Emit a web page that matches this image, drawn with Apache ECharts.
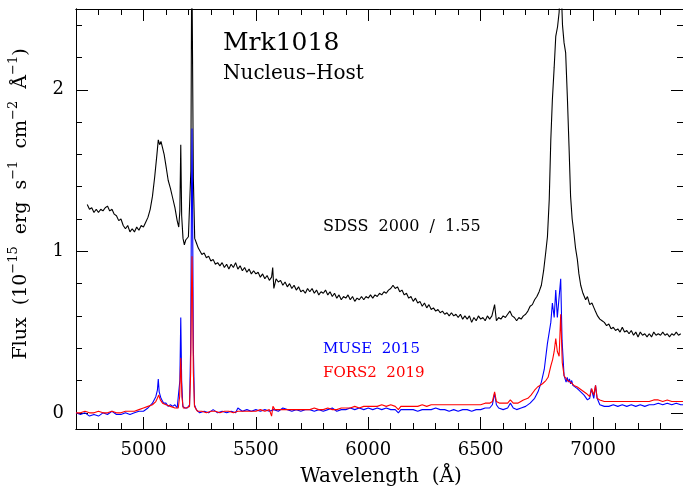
<!DOCTYPE html>
<html><head><meta charset="utf-8">
<script src="https://cdn.jsdelivr.net/npm/echarts@6/dist/echarts.min.js"></script>
<style>html,body{margin:0;padding:0;background:#fff}#c{width:683px;height:488px}</style>
</head><body><div id="c"></div>
<script>
// ---- data (wavelength in Å, flux in 1e-15 erg/s/cm2/Å) ----
const sdssWave = [4750,4760,4770,4780,4790,4800,4810,4820,4830,4840,4850,4860,4870,4880,4890,4900,4910,4920,4930,4940,4950,4960,4970,4980,4990,5000,5010,5020,5030,5040,5050,5060,5066,5072,5078,5085,5092,5100,5110,5120,5130,5140,5150,5157,5162,5166,5170,5176,5182,5188,5194,5200,5206,5211,5215,5218,5222,5228,5236,5244,5250,5260,5270,5280,5290,5300,5310,5320,5330,5340,5350,5360,5370,5380,5390,5400,5410,5420,5430,5440,5450,5460,5470,5480,5490,5500,5510,5520,5530,5540,5550,5560,5570,5575,5580,5590,5600,5610,5620,5630,5640,5650,5660,5670,5680,5690,5700,5710,5720,5730,5740,5750,5760,5770,5780,5790,5800,5810,5820,5830,5840,5850,5860,5870,5880,5890,5900,5910,5920,5930,5940,5950,5960,5970,5980,5990,6000,6010,6020,6030,6040,6050,6060,6070,6080,6090,6100,6110,6120,6130,6140,6150,6160,6170,6180,6190,6200,6210,6220,6230,6240,6250,6260,6270,6280,6290,6300,6310,6320,6330,6340,6350,6360,6370,6380,6390,6400,6410,6420,6430,6440,6450,6460,6470,6480,6490,6500,6510,6520,6530,6540,6550,6562,6570,6580,6590,6600,6610,6620,6630,6640,6650,6660,6670,6680,6690,6700,6710,6720,6730,6740,6750,6760,6770,6780,6790,6797,6805,6812,6819,6827,6834,6842,6849,6853,6858,6864,6871,6878,6886,6893,6900,6907,6915,6922,6930,6937,6945,6955,6967,6975,6985,6995,7004,7010,7020,7030,7040,7050,7060,7070,7080,7090,7100,7110,7120,7130,7140,7150,7160,7170,7180,7190,7200,7210,7220,7230,7240,7250,7260,7270,7280,7290,7300,7310,7320,7330,7340,7350,7360,7370,7380,7390];
const sdssFlux = [1.29,1.26,1.27,1.24,1.26,1.24,1.26,1.25,1.27,1.28,1.25,1.26,1.23,1.22,1.19,1.20,1.16,1.14,1.16,1.12,1.14,1.12,1.15,1.13,1.16,1.15,1.18,1.21,1.26,1.34,1.46,1.60,1.69,1.66,1.68,1.64,1.60,1.53,1.44,1.39,1.33,1.27,1.19,1.15,1.25,1.66,1.22,1.08,1.04,1.07,1.06,1.09,1.10,1.50,2.90,2.90,1.45,1.08,1.05,1.02,1.01,0.98,0.99,0.96,0.97,0.94,0.95,0.92,0.93,0.91,0.93,0.90,0.92,0.89,0.92,0.90,0.93,0.89,0.91,0.88,0.90,0.87,0.89,0.86,0.88,0.86,0.87,0.84,0.86,0.83,0.85,0.82,0.84,0.90,0.77,0.83,0.81,0.82,0.79,0.81,0.78,0.80,0.77,0.79,0.76,0.78,0.75,0.76,0.74,0.77,0.75,0.77,0.74,0.76,0.73,0.75,0.74,0.76,0.73,0.75,0.72,0.74,0.71,0.73,0.70,0.72,0.71,0.73,0.70,0.72,0.69,0.71,0.70,0.72,0.70,0.72,0.71,0.73,0.71,0.73,0.72,0.74,0.73,0.75,0.74,0.76,0.77,0.79,0.77,0.78,0.75,0.76,0.73,0.74,0.71,0.72,0.69,0.71,0.68,0.69,0.66,0.68,0.65,0.67,0.64,0.65,0.63,0.64,0.62,0.63,0.61,0.62,0.60,0.62,0.60,0.61,0.59,0.61,0.58,0.60,0.58,0.60,0.56,0.59,0.57,0.60,0.58,0.59,0.57,0.60,0.58,0.60,0.67,0.57,0.59,0.58,0.60,0.59,0.61,0.63,0.60,0.59,0.57,0.59,0.58,0.60,0.61,0.63,0.66,0.67,0.70,0.72,0.75,0.79,0.88,1.00,1.09,1.32,1.69,1.94,2.14,2.33,2.39,2.48,2.62,2.64,2.40,2.29,2.23,1.94,1.65,1.34,1.20,1.11,1.02,0.95,0.86,0.79,0.74,0.70,0.72,0.67,0.68,0.65,0.63,0.60,0.58,0.57,0.56,0.54,0.55,0.52,0.53,0.51,0.52,0.50,0.53,0.50,0.51,0.49,0.51,0.48,0.50,0.47,0.50,0.48,0.49,0.47,0.49,0.47,0.50,0.48,0.49,0.48,0.50,0.48,0.49,0.47,0.49,0.48,0.50,0.48,0.49];

const museWave = [4700,4720,4740,4760,4780,4800,4820,4840,4860,4880,4900,4920,4940,4960,4980,5000,5020,5040,5055,5062,5066,5070,5078,5090,5100,5110,5120,5130,5140,5150,5158,5162,5166,5170,5175,5185,5195,5205,5210,5214,5216,5218,5222,5227,5235,5250,5270,5290,5310,5330,5350,5370,5390,5410,5420,5440,5460,5480,5500,5520,5540,5560,5580,5600,5620,5640,5660,5680,5700,5720,5740,5760,5780,5800,5820,5840,5860,5880,5900,5920,5940,5960,5980,6000,6020,6040,6060,6080,6100,6120,6134,6145,6160,6180,6200,6220,6240,6260,6280,6300,6320,6340,6360,6380,6400,6420,6440,6460,6480,6500,6520,6540,6552,6562,6570,6580,6600,6620,6632,6645,6660,6680,6700,6720,6740,6755,6770,6783,6797,6812,6819,6827,6834,6841,6848,6856,6862,6871,6875,6880,6885,6890,6895,6900,6905,6910,6915,6930,6945,6960,6975,6985,6992,7003,7011,7018,7030,7050,7070,7090,7110,7130,7150,7170,7190,7210,7230,7250,7270,7290,7310,7330,7350,7370,7390,7400];
const museFlux = [0.00,-0.01,0.00,-0.02,-0.01,-0.02,0.00,-0.01,0.01,-0.01,-0.01,0.00,-0.01,0.00,0.01,0.01,0.03,0.06,0.10,0.14,0.21,0.13,0.09,0.06,0.06,0.04,0.05,0.04,0.05,0.03,0.04,0.20,0.59,0.20,0.04,0.03,0.03,0.05,0.40,1.40,1.76,1.40,0.40,0.05,0.02,0.00,0.01,0.00,0.02,0.00,0.01,0.00,0.01,0.00,0.03,0.01,0.02,0.01,0.02,0.01,0.02,0.01,0.02,0.01,0.03,0.02,0.01,0.02,0.01,0.02,0.02,0.01,0.02,0.01,0.02,0.03,0.01,0.02,0.02,0.03,0.02,0.03,0.02,0.03,0.02,0.03,0.02,0.03,0.02,0.02,0.00,0.02,0.02,0.02,0.02,0.01,0.02,0.02,0.02,0.03,0.02,0.02,0.01,0.02,0.01,0.02,0.02,0.01,0.02,0.02,0.03,0.03,0.05,0.12,0.05,0.03,0.02,0.03,0.06,0.03,0.02,0.03,0.04,0.06,0.09,0.13,0.19,0.27,0.43,0.56,0.68,0.59,0.76,0.59,0.58,0.83,0.45,0.23,0.22,0.19,0.22,0.19,0.21,0.18,0.20,0.17,0.18,0.15,0.13,0.11,0.08,0.09,0.15,0.09,0.17,0.09,0.05,0.04,0.04,0.05,0.04,0.05,0.04,0.05,0.04,0.05,0.04,0.05,0.05,0.06,0.05,0.06,0.05,0.06,0.05,0.05];

const forsWave = [4700,4720,4740,4760,4780,4800,4820,4840,4860,4880,4900,4920,4940,4960,4980,5000,5020,5040,5055,5062,5068,5075,5085,5100,5120,5140,5155,5161,5166,5171,5177,5190,5205,5210,5214,5216,5218,5222,5227,5240,5260,5280,5300,5320,5340,5360,5380,5400,5420,5440,5460,5480,5500,5520,5540,5560,5570,5576,5585,5600,5620,5640,5660,5680,5700,5720,5740,5760,5780,5800,5820,5840,5860,5880,5900,5920,5940,5960,5980,6000,6020,6040,6060,6080,6100,6120,6134,6145,6160,6180,6200,6220,6240,6260,6280,6300,6320,6340,6360,6380,6400,6420,6440,6460,6480,6500,6520,6540,6552,6562,6570,6585,6600,6620,6632,6645,6665,6690,6710,6724,6740,6753,6775,6790,6800,6812,6820,6827,6834,6841,6849,6856,6863,6871,6886,6900,6915,6930,6950,6970,6985,6994,7003,7011,7018,7030,7050,7070,7090,7110,7130,7150,7170,7190,7210,7230,7250,7270,7290,7310,7330,7350,7370,7400];
const forsFlux = [0.00,0.00,0.01,0.00,0.00,0.01,0.00,0.00,0.01,0.00,0.00,0.01,0.01,0.01,0.02,0.03,0.04,0.05,0.07,0.09,0.11,0.08,0.06,0.05,0.04,0.03,0.03,0.10,0.34,0.10,0.03,0.03,0.04,0.25,0.80,0.97,0.80,0.25,0.04,0.01,0.01,0.00,0.01,0.01,0.00,0.01,0.01,0.00,0.01,0.01,0.01,0.01,0.01,0.02,0.01,0.02,-0.02,0.04,0.02,0.02,0.02,0.02,0.02,0.02,0.02,0.02,0.02,0.03,0.02,0.02,0.03,0.02,0.02,0.03,0.03,0.03,0.04,0.03,0.04,0.04,0.04,0.04,0.05,0.04,0.05,0.04,0.02,0.04,0.04,0.04,0.04,0.04,0.05,0.04,0.05,0.05,0.05,0.05,0.05,0.05,0.05,0.05,0.05,0.05,0.05,0.05,0.06,0.06,0.07,0.13,0.07,0.06,0.06,0.06,0.08,0.06,0.06,0.08,0.09,0.11,0.14,0.16,0.18,0.20,0.22,0.29,0.33,0.38,0.46,0.38,0.35,0.61,0.31,0.23,0.20,0.19,0.17,0.16,0.14,0.12,0.10,0.15,0.11,0.17,0.09,0.08,0.07,0.07,0.07,0.07,0.07,0.07,0.07,0.07,0.07,0.07,0.07,0.08,0.08,0.07,0.08,0.07,0.07,0.07];

// ---- axis ticks / labels ----
const xMajorTicks = [5000,5500,6000,6500,7000];
const xMinorTicks = [4800,4900,5100,5200,5300,5400,5600,5700,5800,5900,6100,6200,6300,6400,6600,6700,6800,6900,7100,7200,7300];
const yMajorTicks = [0,1,2];
const yMinorTicks = [0.2,0.4,0.6,0.8,1.2,1.4,1.6,1.8,2.2,2.4];

const FONT = 'DejaVu Serif';
const pairs = (w, f) => w.map((x, i) => [x, f[i]]);

function xAx(pos, ticks, len, labels) {
  return { type:'value', position:pos, min:4700, max:7400, gridIndex:0,
    axisLine:{show:true, onZero:false, lineStyle:{color:'#000', width:1}},
    axisTick:{show:true, inside:true, length:len, customValues:ticks, lineStyle:{color:'#000', width:1}},
    axisLabel:{show:labels, customValues:ticks, color:'#000', fontFamily:FONT, fontSize:18, margin:12,
      formatter:(v)=>String(v)},
    splitLine:{show:false}, minorTick:{show:false} };
}
function yAx(pos, ticks, len, labels) {
  return { type:'value', position:pos, min:-0.1, max:2.5, gridIndex:0,
    axisLine:{show:true, onZero:false, lineStyle:{color:'#000', width:1}},
    axisTick:{show:true, inside:true, length:len, customValues:ticks, lineStyle:{color:'#000', width:1}},
    axisLabel:{show:labels, customValues:ticks, color:'#000', fontFamily:FONT, fontSize:18, margin:12,
      formatter:(v)=>String(v)},
    splitLine:{show:false}, minorTick:{show:false} };
}

const chart = echarts.init(document.getElementById('c'), null, {renderer:'canvas'});
chart.setOption({
  animation:false,
  backgroundColor:'#fff',
  grid:{left:76, top:9, width:608, height:420, containLabel:false},
  xAxis:[
    xAx('bottom', xMajorTicks, 12, true),
    xAx('bottom', xMinorTicks, 6, false),
    xAx('top', xMajorTicks, 12, false),
    xAx('top', xMinorTicks, 6, false)
  ],
  yAxis:[
    yAx('left', yMajorTicks, 12, true),
    yAx('left', yMinorTicks, 6, false),
    yAx('right', yMajorTicks, 12, false),
    yAx('right', yMinorTicks, 6, false)
  ],
  series:[
    {type:'line', name:'SDSS 2000 / 1.55', data:pairs(sdssWave, sdssFlux), symbol:'none', clip:true,
     lineStyle:{color:'#000', width:1.1}, z:2},
    {type:'line', name:'MUSE 2015', data:pairs(museWave, museFlux), symbol:'none', clip:true,
     lineStyle:{color:'#0000ff', width:1.1}, z:3},
    {type:'line', name:'FORS2 2019', data:pairs(forsWave, forsFlux), symbol:'none', clip:true,
     lineStyle:{color:'#ff0000', width:1.1}, z:4}
  ],
  graphic:[
    {type:'text', x:223, y:43, style:{text:'Mrk1018', fill:'#000', font:'25px "DejaVu Serif"', align:'left', verticalAlign:'middle', textAlign:'left', textVerticalAlign:'middle'}},
    {type:'text', x:223, y:74, style:{text:'Nucleus–Host', fill:'#000', font:'20px "DejaVu Serif"', align:'left', verticalAlign:'middle', textAlign:'left', textVerticalAlign:'middle'}},
    {type:'text', x:323, y:227, style:{text:'SDSS  2000  /  1.55', fill:'#000', font:'16px "DejaVu Serif"', align:'left', verticalAlign:'middle', textAlign:'left', textVerticalAlign:'middle'}},
    {type:'text', x:323, y:349, style:{text:'MUSE  2015', fill:'#0000ff', font:'15px "DejaVu Serif"', align:'left', verticalAlign:'middle', textAlign:'left', textVerticalAlign:'middle'}},
    {type:'text', x:323, y:373, style:{text:'FORS2  2019', fill:'#ff0000', font:'15px "DejaVu Serif"', align:'left', verticalAlign:'middle', textAlign:'left', textVerticalAlign:'middle'}},
    {type:'text', x:381, y:477, style:{text:'Wavelength  (Å)', fill:'#000', font:'20px "DejaVu Serif"', align:'center', verticalAlign:'middle', textAlign:'center', textVerticalAlign:'middle'}},
    {type:'text', x:19, y:204, rotation:Math.PI/2,
     style:{text:'{n|Flux  (10}{s|−15}{n|  erg  s}{s|−1}{n|  cm}{s|−2}{n|  Å}{s|−1}{n|)}',
       fill:'#000', align:'center', verticalAlign:'middle', textAlign:'center', textVerticalAlign:'middle',
       rich:{ n:{fontFamily:FONT, fontSize:19, fill:'#000', lineHeight:23, verticalAlign:'bottom'},
              s:{fontFamily:FONT, fontSize:13, fill:'#000', lineHeight:23, verticalAlign:'top'} }}}
  ]
});
</script></body></html>
